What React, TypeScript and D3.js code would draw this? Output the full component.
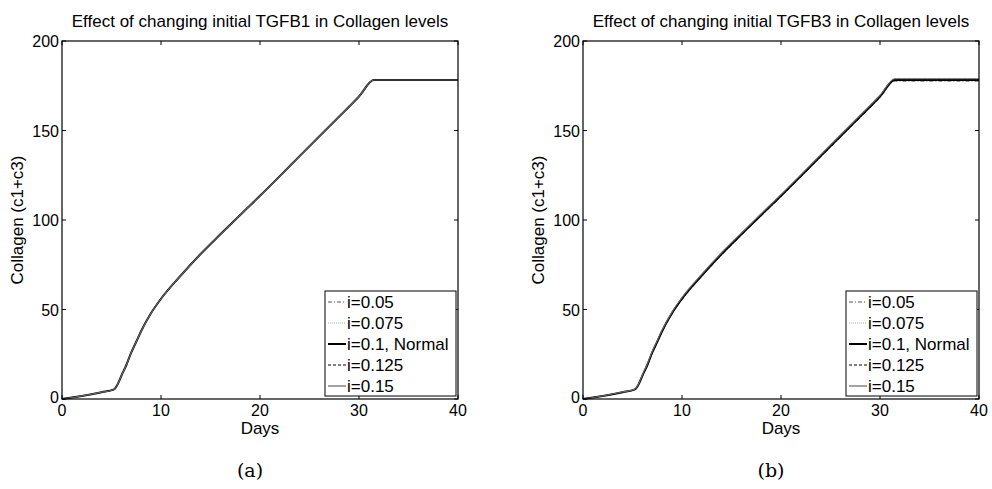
import React from "react";
import * as d3 from "d3";

const days = [0, 1, 2, 3, 4, 5.2, 5.6, 6, 6.5, 7, 7.5, 8, 9, 10, 12, 14, 16, 18, 20, 22, 24, 26, 28, 30, 31.5, 32, 35, 40];
const collagenNormal = [0, 0.8, 1.7, 2.7, 3.8, 5.2, 8, 13, 19, 26, 32, 38, 48, 56, 69, 81, 92, 102.8, 113.5, 124.5, 135.7, 146.8, 157.8, 169, 178.2, 178.2, 178.2, 178.2];
const offsetsA = [0, 0, 0, 0, 0];
const offsetsB = [-0.6, -0.3, 0, 0.4, 0.7];
const seriesLabels = ["i=0.05", "i=0.075", "i=0.1, Normal", "i=0.125", "i=0.15"];
const seriesColors = ["#555", "#aaa", "#000", "#000", "#666"];
const seriesDash = ["4,2,1,2", "1,1", "", "3,2", ""];
const seriesWidth = [1, 1, 2, 1, 1.2];
const xTicks = [0, 10, 20, 30, 40];
const yTicks = [0, 50, 100, 150, 200];
const titles = ["Effect of changing initial TGFB1 in Collagen levels", "Effect of changing initial TGFB3 in Collagen levels"];
const captions = ["(a)", "(b)"];

const font = "'Liberation Sans', Arial, Helvetica, sans-serif";
const fs = 17;
const tfs = 16;

function Panel({ left, title, caption, offsets }: { left: number; title: string; caption: string; offsets: number[] }) {
  const x = d3.scaleLinear().domain([0, 40]).range([left, left + 396]);
  const y = d3.scaleLinear().domain([0, 200]).range([399, 41]);
  const line = d3.line<[number, number]>().x((d) => x(d[0])).y((d) => y(d[1])).curve(d3.curveMonotoneX);
  const cx = (x(0) + x(40)) / 2;
  const legX = x(40) - 133;
  return (
    <g>
      <text x={cx} y={27} fontFamily={font} fontSize={fs} textAnchor="middle">{title}</text>
      {seriesLabels.map((_, i) => {
        const pts = days.map((d, k) => {
          const v = collagenNormal[k];
          const o = offsets[i] * Math.min(1, v / 20);
          return [d, Math.max(0, v + o)] as [number, number];
        });
        return (
          <path key={i} d={line(pts) || ""} fill="none" stroke={seriesColors[i]} strokeWidth={seriesWidth[i]} strokeDasharray={seriesDash[i]} />
        );
      })}
      <rect x={x(0)} y={y(200)} width={x(40) - x(0)} height={y(0) - y(200)} fill="none" stroke="#000" strokeWidth={1.2} />
      {xTicks.map((t) => (
        <g key={"x" + t}>
          <line x1={x(t)} x2={x(t)} y1={y(0)} y2={y(0) - 4} stroke="#000" />
          <line x1={x(t)} x2={x(t)} y1={y(200)} y2={y(200) + 4} stroke="#000" />
          <text x={x(t)} y={416} fontFamily={font} fontSize={tfs} textAnchor="middle">{t}</text>
        </g>
      ))}
      {yTicks.map((t) => (
        <g key={"y" + t}>
          <line x1={x(0)} x2={x(0) + 4} y1={y(t)} y2={y(t)} stroke="#000" />
          <line x1={x(40)} x2={x(40) - 4} y1={y(t)} y2={y(t)} stroke="#000" />
          <text x={x(0) - 3} y={y(t) + (t === 0 ? 4 : 6)} fontFamily={font} fontSize={tfs} textAnchor="end">{t}</text>
        </g>
      ))}
      <text x={cx} y={434} fontFamily={font} fontSize={fs} textAnchor="middle">Days</text>
      <text transform={`translate(${x(0) - 39},${220}) rotate(-90)`} fontFamily={font} fontSize={fs} textAnchor="middle">Collagen (c1+c3)</text>
      <rect x={legX} y={291} width={131} height={105} fill="#fff" stroke="#000" strokeWidth={1} />
      {seriesLabels.map((s, i) => {
        const ly = 302 + i * 21;
        return (
          <g key={"l" + i}>
            <line x1={legX + 3} x2={legX + 21} y1={ly} y2={ly} stroke={seriesColors[i]} strokeWidth={seriesWidth[i]} strokeDasharray={seriesDash[i]} />
            <text x={legX + 22} y={ly + 6} fontFamily={font} fontSize={fs}>{s}</text>
          </g>
        );
      })}
      <text x={cx - 10} y={477} fontFamily="'DejaVu Serif', 'Liberation Serif', serif" fontSize={19} textAnchor="middle">{caption}</text>
    </g>
  );
}

export default function App() {
  return (
    <svg width={992} height={489} style={{ position: "absolute", left: 0, top: 0, background: "#fff" }}>
      <rect width={992} height={489} fill="#fff" />
      <Panel left={62} title={titles[0]} caption={captions[0]} offsets={offsetsA} />
      <Panel left={583} title={titles[1]} caption={captions[1]} offsets={offsetsB} />
    </svg>
  );
}
